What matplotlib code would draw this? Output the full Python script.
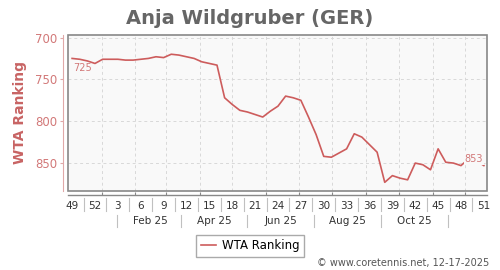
import matplotlib
matplotlib.use('Agg')
import matplotlib.pyplot as plt
import matplotlib.transforms as mtransforms
from matplotlib.patches import Rectangle
import numpy as np
import pandas as pd

# weekly WTA ranking, week 49/2024 .. week 51/2025
rank = [725, 726, 728, 731, 726, 726, 726, 727, 727, 726,
        725, 723, 724, 720, 721, 723, 725, 729, 731, 733,
        772, 780, 787, 789, 792, 795, 788, 782, 770, 772,
        775, 795, 816, 842, 843, 838, 833, 815, 819, 828,
        837, 873, 865, 868, 870, 850, 852, 858, 833, 849,
        850, 853, 845, 847, 853]
start_date = '2024-12-05'

tick_weeks = [49, 52, 3, 6, 9, 12, 15, 18, 21, 24, 27, 30, 33, 36, 39, 42, 45, 48, 51]
month_grid = ['2025-01-01', '2025-02-01', '2025-03-01', '2025-04-01', '2025-05-01', '2025-06-01',
              '2025-07-01', '2025-08-01', '2025-09-01', '2025-10-01', '2025-11-01', '2025-12-01']
month_labels = ['Feb 25', 'Apr 25', 'Jun 25', 'Aug 25', 'Oct 25']
month_label_dates = ['2025-02-15', '2025-04-15', '2025-06-15', '2025-08-15', '2025-10-15']
month_seps = ['2025-01-15', '2025-03-15', '2025-05-15', '2025-07-15', '2025-09-15', '2025-11-15']

LINE = '#cd5c5c'
PINK = '#d27878'
GRAY = '#888888'


def week_pos(dates):
    d = pd.to_datetime(dates) - pd.Timestamp(start_date)
    return np.asarray(d.days) / 7.0


x = np.arange(len(rank))
tick_pos = np.arange(0, len(rank), 3)

fig = plt.figure(figsize=(5, 2.7), dpi=100)
ax = fig.add_axes([0.1366, 0.2937, 0.838, 0.5767])
ax.set_facecolor('#f9f9f9')

ax.plot(x, rank, color=LINE, lw=1.2, label='WTA Ranking', zorder=3)
ax.set_xlim(-0.5, 54.45)
ax.set_ylim(883, 697)
ax.set_yticks([700, 750, 800, 850])

# end labels
ax.text(x[0] + 0.1, rank[0] + 5, str(rank[0]), color=PINK, fontsize=7, ha='left', va='top', zorder=4)
ax.text(x[-1] - 0.1, rank[-1] - 2, str(rank[-1]), color=PINK, fontsize=7, ha='right', va='bottom', zorder=4,
        bbox=dict(facecolor='#f9f9f9', edgecolor='none', pad=0.5))

# grid
for m in week_pos(month_grid):
    ax.axvline(m, color='#d8d8d8', lw=0.7, ls=(0, (3, 3)), zorder=1)
for v in [700, 750, 800, 850]:
    ax.axhline(v, color='#d8d8d8', lw=0.7, ls=(0, (3, 3)), zorder=1)

# spines / frame
for s in ['top', 'right']:
    ax.spines[s].set_visible(False)
ax.spines['left'].set_position(('outward', 3.6))
ax.spines['left'].set_color('#e0a8a8')
ax.spines['bottom'].set_position(('outward', 3.2))
ax.spines['bottom'].set_color(GRAY)
ax.spines['bottom'].set_linewidth(1.0)
ax.add_patch(Rectangle((0, 0), 1, 1, transform=ax.transAxes, fill=False, edgecolor=GRAY, lw=1.2,
                       clip_on=False, zorder=5))

ax.tick_params(axis='y', colors='#e0a8a8', labelcolor=PINK, labelsize=8.5, length=2.2, width=0.8, pad=2)
ax.set_xticks(tick_pos)
ax.set_xticklabels([str(w) for w in tick_weeks])
ax.tick_params(axis='x', length=0, labelsize=7.5, labelcolor='#333333', pad=4.2)
ax.set_xticks(week_pos(month_grid), minor=True)
ax.tick_params(axis='x', which='minor', direction='in', length=2, color=GRAY, width=0.8)

trans = mtransforms.blended_transform_factory(ax.transData, ax.transAxes)
for p in tick_pos[:-1] + 1.5:
    ax.plot([p, p], [-0.047, -0.128], color='#c0c0c0', lw=0.8, transform=trans, clip_on=False)
for p in week_pos(month_seps):
    ax.plot([p, p], [-0.156, -0.231], color='#c0c0c0', lw=0.8, transform=trans, clip_on=False)
for p, lab in zip(week_pos(month_label_dates), month_labels):
    ax.text(p, -0.193, lab, transform=trans, ha='center', va='center', fontsize=7.5, color='#333333')

fig.text(0.5, 0.93, 'Anja Wildgruber (GER)', ha='center', va='center', fontsize=14, fontweight='bold',
         color='#666666')
fig.text(0.04, 0.582, 'WTA Ranking', rotation=90, ha='center', va='center', fontsize=10, fontweight='bold',
         color='#c86464')
fig.text(0.978, 0.025, '\u00a9 www.coretennis.net, 12-17-2025', ha='right', va='center', fontsize=7,
         color='#555555')

fig.legend(loc='center', bbox_to_anchor=(0.5, 0.089), fontsize=8.5, frameon=True, fancybox=False,
           edgecolor='#aaaaaa', framealpha=1, handlelength=1.3, handletextpad=0.5, borderpad=0.4)

fig.savefig('out.png', dpi=100)
